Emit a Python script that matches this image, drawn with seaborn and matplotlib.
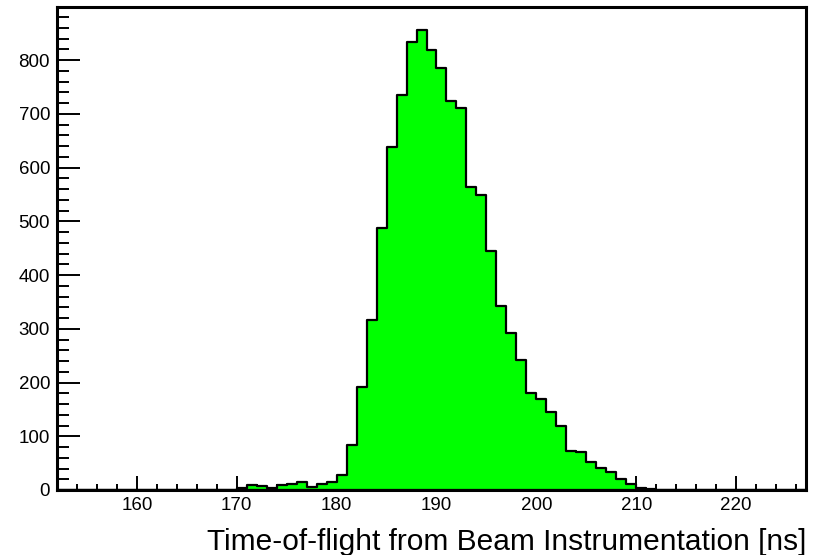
import numpy as np
import pandas as pd
import seaborn as sns
import matplotlib
matplotlib.use("Agg")
import matplotlib.pyplot as plt
from matplotlib.ticker import MultipleLocator

# Histogram data: 1 ns bins from 152 to 227 ns
bin_lo = 152
bin_hi = 227
# counts for bins starting at 170 ... 211 (all other bins are zero)
first_nonzero_bin = 170
counts_nonzero = [4, 10, 7, 3, 9, 11, 15, 5, 11, 15,     # 170-179
                  28, 83, 191, 316, 487, 639, 735, 833, 856, 819,  # 180-189
                  786, 724, 711, 564, 549, 445, 342, 292, 241, 181,  # 190-199
                  169, 145, 119, 73, 70, 53, 41, 33, 20, 11,       # 200-209
                  4, 2]                                              # 210-211
x_label = "Time-of-flight from Beam Instrumentation [ns]"
x_major = [160, 170, 180, 190, 200, 210, 220]
y_major = [0, 100, 200, 300, 400, 500, 600, 700, 800]

edges = np.arange(bin_lo, bin_hi + 1)
centers = edges[:-1] + 0.5
counts = np.zeros(len(centers))
start = first_nonzero_bin - bin_lo
counts[start:start + len(counts_nonzero)] = counts_nonzero
df = pd.DataFrame({"t": centers, "n": counts})

sns.set_theme(style="white")
plt.rcParams["font.family"] = ["Liberation Sans", "DejaVu Sans"]

fig = plt.figure(figsize=(8.17, 5.55), dpi=100)
ax = fig.add_axes([57 / 817, 65 / 555, (806 - 57) / 817, (490 - 7) / 555])

sns.histplot(data=df, x="t", weights="n", binwidth=1, binrange=(bin_lo, bin_hi),
             element="step", fill=True, alpha=1, facecolor="#00ff00",
             edgecolor="black", linewidth=1.6, ax=ax)

ax.set_xlim(bin_lo, bin_hi)
ax.set_ylim(0, 1.05 * max(counts_nonzero))

ax.set_xticks(x_major)
ax.set_yticks(y_major)
ax.xaxis.set_minor_locator(MultipleLocator(2))
ax.yaxis.set_minor_locator(MultipleLocator(20))
ax.tick_params(axis="x", which="major", direction="in", length=10, width=1.4,
               labelsize=13.5, pad=5, color="black", labelcolor="black",
               top=False, bottom=True)
ax.tick_params(axis="x", which="minor", direction="in", length=4.5, width=1.4,
               color="black", top=False, bottom=True)
ax.tick_params(axis="y", which="major", direction="in", length=16.5, width=1.4,
               labelsize=13.5, pad=5, color="black", labelcolor="black",
               left=True, right=False)
ax.tick_params(axis="y", which="minor", direction="in", length=8.5, width=1.4,
               color="black", left=True, right=False)

for s in ax.spines.values():
    s.set_visible(True)
    s.set_color("black")
    s.set_linewidth(2.2)

ax.set_ylabel("")
ax.set_xlabel("")
fig.text(806 / 817, 1 - 550 / 555, x_label, ha="right", va="baseline",
         fontsize=21.5, color="black")

fig.savefig("out.png", dpi=100, facecolor="white")
